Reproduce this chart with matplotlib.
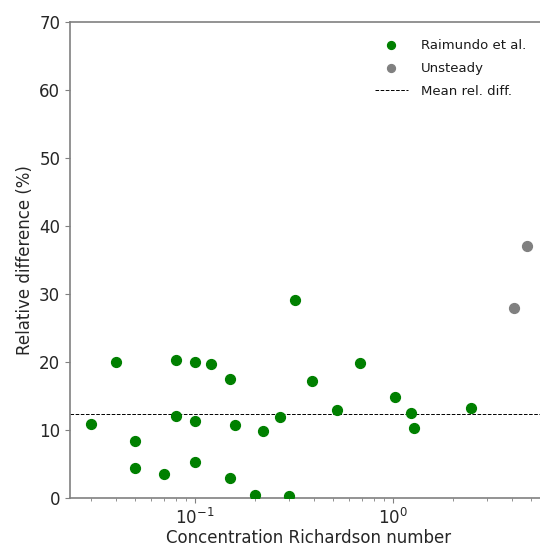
import matplotlib
matplotlib.use("Agg")
import matplotlib.pyplot as plt

# Raimundo et al. points (Richardson number, relative difference %)
ri_raimundo = [0.030, 0.040, 0.050, 0.050, 0.070, 0.080, 0.080, 0.10, 0.10, 0.10,
               0.12, 0.15, 0.15, 0.16, 0.20, 0.22, 0.27, 0.30, 0.32, 0.39,
               0.52, 0.68, 1.02, 1.23, 1.27, 2.47]
diff_raimundo = [10.9, 20.0, 8.4, 4.4, 3.6, 20.3, 12.1, 20.0, 11.3, 5.3,
                 19.7, 17.5, 3.0, 10.7, 0.5, 9.9, 11.9, 0.3, 29.1, 17.2,
                 12.9, 19.9, 14.9, 12.5, 10.3, 13.3]

# unsteady cases
ri_unsteady = [4.09, 4.77]
diff_unsteady = [28.0, 37.1]

mean_diff = 12.3

spine_col = "#808080"
text_col = "#262626"

fig = plt.figure(figsize=(5.4, 5.49), dpi=100)
# axes runs past the right edge of the picture (cropped figure)
ax = fig.add_axes([70 / 540, 51 / 549, 478 / 540, 476 / 549])

ax.scatter(ri_raimundo, diff_raimundo, s=50, color="green", label="Raimundo et al.", zorder=3)
ax.scatter(ri_unsteady, diff_unsteady, s=50, color="gray", label="Unsteady", zorder=3)
ax.axhline(mean_diff, color="black", linestyle="--", linewidth=0.7, label="Mean rel. diff.")

ax.set_xscale("log")
ax.set_xlim(10 ** -1.631, 10 ** 0.783)
ax.set_ylim(0, 70)
ax.set_yticks(range(0, 71, 10))

ax.set_xlabel("Concentration Richardson number", fontsize=12, color=text_col, labelpad=1)
ax.set_ylabel("Relative difference (%)", fontsize=12, color=text_col)

for sp in ax.spines.values():
    sp.set_color(spine_col)
    sp.set_linewidth(1.2)
ax.tick_params(which="both", colors=spine_col, labelcolor=text_col, labelsize=12)

leg = ax.legend(loc="upper left", bbox_to_anchor=(363 / 540, 1 - 27 / 549),
                bbox_transform=fig.transFigure, frameon=False, fontsize=9.5,
                scatterpoints=1, handlelength=2.5, handletextpad=1.0,
                labelspacing=0.75, markerscale=0.8)
for t in leg.get_texts():
    t.set_color("#1a1a1a")

fig.savefig("out.png", dpi=100)
